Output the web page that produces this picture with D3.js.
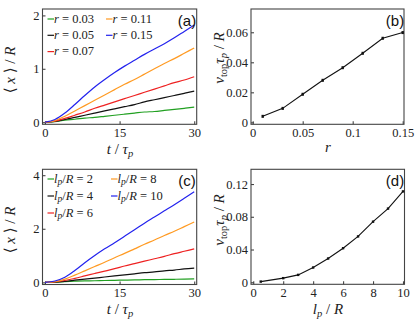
<!DOCTYPE html>
<html><head><meta charset="utf-8">
<script src="https://cdn.jsdelivr.net/npm/d3@7"></script>
<style>
body{margin:0;background:#fff;}
svg{display:block;}
</style></head>
<body>
<svg id="c" width="415" height="320"></svg>
<script>
// ---------- data ----------
const tVals = [0,2,4,6,8,10,12,14,16,18,20,22,24,26,28,30];
const rLabels = ["0.03","0.05","0.07","0.11","0.15"];
const rColors = ["#22a022","#111111","#ee2222","#ff9a22","#2222ee"];
const aGreen  = [0,0.01,0.04,0.055,0.075,0.09,0.11,0.13,0.15,0.17,0.19,0.20,0.22,0.24,0.26,0.28];
const aBlack  = [0,0.015,0.05,0.09,0.13,0.17,0.21,0.25,0.29,0.33,0.38,0.42,0.46,0.50,0.54,0.58];
const aRed    = [0,0.02,0.07,0.13,0.19,0.26,0.32,0.38,0.44,0.50,0.56,0.62,0.68,0.74,0.79,0.85];
const aOrange = [0,0.03,0.11,0.21,0.31,0.41,0.51,0.61,0.71,0.80,0.90,1.00,1.10,1.19,1.29,1.39];
const aBlue   = [0,0.05,0.17,0.33,0.50,0.66,0.80,0.93,1.05,1.16,1.27,1.37,1.47,1.58,1.70,1.82];

const lpLabels = ["2","4","6","8","10"];
const cGreen  = [0,0.01,0.03,0.045,0.055,0.06,0.07,0.075,0.085,0.09,0.10,0.105,0.11,0.115,0.12,0.13];
const cBlack  = [0,0.01,0.04,0.08,0.12,0.16,0.20,0.24,0.28,0.32,0.36,0.39,0.43,0.46,0.50,0.53];
const cRed    = [0,0.02,0.07,0.15,0.24,0.33,0.42,0.51,0.61,0.70,0.79,0.88,0.97,1.07,1.16,1.25];
const cOrange = [0,0.03,0.12,0.27,0.43,0.59,0.75,0.92,1.08,1.25,1.42,1.58,1.75,1.91,2.08,2.25];
const cBlue   = [0,0.05,0.19,0.44,0.73,1.00,1.25,1.48,1.72,1.96,2.21,2.44,2.67,2.90,3.14,3.38];

const rVals = [0.01,0.03,0.05,0.07,0.09,0.11,0.13,0.15];
const vTopR = [0.0040,0.0093,0.0187,0.0280,0.0364,0.0460,0.0560,0.0598];
const lpVals = [0.5,2,3,4,5,6,7,8,9,10];
const vTopLp = [0.0008,0.0050,0.0090,0.0180,0.0290,0.0416,0.0560,0.0740,0.0900,0.1110];

const ticksTA = [0,15,30], ticksYA = [0,1,2], ticksYC = [0,2,4];
const ticksR = [0,0.05,0.1,0.15], ticksYB = [0,0.02,0.04,0.06];
const ticksLp = [0,2,4,6,8,10], ticksYD = [0,0.04,0.08,0.12];

// ---------- drawing ----------
const SERIF = '"Liberation Serif", "DejaVu Serif", serif';
const SANS = '"Liberation Sans", Arial, sans-serif';
const svg = d3.select("#c");
const frameColor = "#444";

function txt(cls){
  const t = svg.append("text").attr("fill","#222");
  if(cls==="title") t.attr("font-family",SERIF).attr("font-size",15);
  if(cls==="leg") t.attr("font-family",SERIF).attr("font-size",12.5);
  if(cls==="panel") t.attr("font-family",SANS).attr("font-size",15).attr("fill","#111");
  return t;
}
function rich(sel, parts){
  parts.forEach(p=>{
    const t = sel.append("tspan").text(p.t);
    if(p.i) t.attr("font-style","italic");
    if(p.sub){ t.attr("font-size", p.fs||10.5).attr("dy", p.dy||3); }
    if(p.up){ t.attr("dy", p.up); }
  });
}

function panel(o){
  const g = svg.append("g");
  const x = d3.scaleLinear().domain(o.xd).range(o.xr);
  const y = d3.scaleLinear().domain(o.yd).range(o.yr);
  g.append("rect").attr("x",o.xr[0]).attr("y",o.yr[1])
    .attr("width",o.xr[1]-o.xr[0]).attr("height",o.yr[0]-o.yr[1])
    .attr("fill","none").attr("stroke",frameColor).attr("stroke-width",1.1);
  const xa = g.append("g").attr("transform",`translate(0,${o.yr[0]})`)
    .call(d3.axisBottom(x).tickValues(o.xt).tickSizeInner(-3).tickSizeOuter(0).tickPadding(4).tickFormat(o.xf||d3.format("")));
  const ya = g.append("g").attr("transform",`translate(${o.xr[0]},0)`)
    .call(d3.axisLeft(y).tickValues(o.yt).tickSizeInner(-3).tickSizeOuter(0).tickPadding(3).tickFormat(o.yf||d3.format("")));
  [xa,ya].forEach(a=>{
    a.attr("font-family",SERIF).attr("font-size",12.5);
    a.select(".domain").remove();
    a.selectAll(".tick line").attr("stroke",frameColor).attr("stroke-width",1.1);
    a.selectAll(".tick text").attr("fill","#222");
  });
  return {g,x,y};
}

const curveLine = (x,y)=> d3.line().x((d,i)=>x(tVals[i])).y(d=>y(d)).curve(d3.curveMonotoneX);

function legend(labels, col2x, y0, dyRow, lp){
  labels.forEach((lab,i)=>{
    const col = i<3?0:1, row = i<3?i:i-3;
    const lx = col===0?47.5:col2x, ly = y0+row*dyRow;
    svg.append("line").attr("x1",lx).attr("x2",lx+6.5).attr("y1",ly+0.5).attr("y2",ly+0.5)
      .attr("stroke",rColors[i]).attr("stroke-width",1.2);
    const t = txt("leg").attr("x",lx+6.5).attr("y",ly+4);
    if(lp) rich(t,[{t:"l",i:true},{t:"p",i:true,sub:true,fs:9.5,dy:2.5},{t:"/",up:-2.5},{t:"R",i:true},{t:" = "+lab}]);
    else rich(t,[{t:"r",i:true},{t:" = "+lab}]);
  });
}

// Panel (a)
{
  const p = panel({xd:[-0.5,30.5], xr:[42.5,196.7], yd:[-0.04,2.12], yr:[124.3,9], xt:ticksTA, yt:ticksYA});
  [aGreen,aBlack,aRed,aOrange,aBlue].forEach((s,i)=>{
    p.g.append("path").attr("d",curveLine(p.x,p.y)(s)).attr("fill","none")
      .attr("stroke",rColors[i]).attr("stroke-width",1.2);
  });
  legend(rLabels,106,18.5,16.3,false);
  txt("panel").attr("x",187).attr("y",26).attr("text-anchor","middle").text("(a)");
  const yl = txt("title").attr("transform","translate(15,70) rotate(-90)").attr("text-anchor","middle");
  rich(yl,[{t:"⟨ "},{t:"x",i:true},{t:" ⟩ / "},{t:"R",i:true}]);
  const xl = txt("title").attr("x",120).attr("y",153.5).attr("text-anchor","middle");
  rich(xl,[{t:"t",i:true},{t:" / "},{t:"τ",i:true},{t:"p",i:true,sub:true}]);
}

// Panel (b)
{
  const p = panel({xd:[-0.0017,0.1513], xr:[251,404], yd:[-0.0013,0.0755], yr:[124.3,9], xt:ticksR, yt:ticksYB,
    xf:d=>d===0?"0":String(d), yf:d=>d===0?"0":d.toFixed(2)});
  const pts = rVals.map((r,i)=>[r,vTopR[i]]);
  p.g.append("path").attr("d",d3.line().x(d=>p.x(d[0])).y(d=>p.y(d[1]))(pts))
    .attr("fill","none").attr("stroke","#111").attr("stroke-width",1.1);
  p.g.selectAll(".mk").data(pts).join("rect").attr("class","mk")
    .attr("x",d=>p.x(d[0])-1.2).attr("y",d=>p.y(d[1])-1.5).attr("width",2.4).attr("height",3).attr("fill","#111");
  txt("panel").attr("x",395).attr("y",26).attr("text-anchor","middle").text("(b)");
  const yl = txt("title").attr("transform","translate(224,58) rotate(-90)").attr("text-anchor","middle");
  rich(yl,[{t:"v",i:true},{t:"top",sub:true,dy:3},{t:"τ",i:true,up:-3},{t:"p",i:true,sub:true},{t:" / ",up:-3},{t:"R",i:true}]);
  txt("title").attr("x",328).attr("y",152).attr("text-anchor","middle").attr("font-style","italic").text("r");
}

// Panel (c)
{
  const p = panel({xd:[-0.5,30.5], xr:[42.5,196.7], yd:[-0.08,4.22], yr:[284.5,169.3], xt:ticksTA, yt:ticksYC});
  [cGreen,cBlack,cRed,cOrange,cBlue].forEach((s,i)=>{
    p.g.append("path").attr("d",curveLine(p.x,p.y)(s)).attr("fill","none")
      .attr("stroke",rColors[i]).attr("stroke-width",1.2);
  });
  legend(lpLabels,111,178.5,17,true);
  txt("panel").attr("x",187).attr("y",186).attr("text-anchor","middle").text("(c)");
  const yl = txt("title").attr("transform","translate(15,230) rotate(-90)").attr("text-anchor","middle");
  rich(yl,[{t:"⟨ "},{t:"x",i:true},{t:" ⟩ / "},{t:"R",i:true}]);
  const xl = txt("title").attr("x",120).attr("y",313.5).attr("text-anchor","middle");
  rich(xl,[{t:"t",i:true},{t:" / "},{t:"τ",i:true},{t:"p",i:true,sub:true}]);
}

// Panel (d)
{
  const p = panel({xd:[-0.15,10.1], xr:[251,404.5], yd:[-0.0025,0.138], yr:[284.3,169.3], xt:ticksLp, yt:ticksYD,
    yf:d=>d===0?"0":d.toFixed(2)});
  const pts = lpVals.map((l,i)=>[l,vTopLp[i]]);
  p.g.append("path").attr("d",d3.line().x(d=>p.x(d[0])).y(d=>p.y(d[1]))(pts))
    .attr("fill","none").attr("stroke","#111").attr("stroke-width",1.1);
  p.g.selectAll(".mk").data(pts).join("rect").attr("class","mk")
    .attr("x",d=>p.x(d[0])-1.2).attr("y",d=>p.y(d[1])-1.2).attr("width",2.4).attr("height",2.4).attr("fill","#111");
  txt("panel").attr("x",395).attr("y",186).attr("text-anchor","middle").text("(d)");
  const yl = txt("title").attr("transform","translate(224,220) rotate(-90)").attr("text-anchor","middle");
  rich(yl,[{t:"v",i:true},{t:"top",sub:true,dy:3},{t:"τ",i:true,up:-3},{t:"p",i:true,sub:true},{t:" / ",up:-3},{t:"R",i:true}]);
  const xl = txt("title").attr("x",328).attr("y",313.5).attr("text-anchor","middle");
  rich(xl,[{t:"l",i:true},{t:"p",i:true,sub:true},{t:" / ",up:-3},{t:"R",i:true}]);
}
</script>
</body></html>
